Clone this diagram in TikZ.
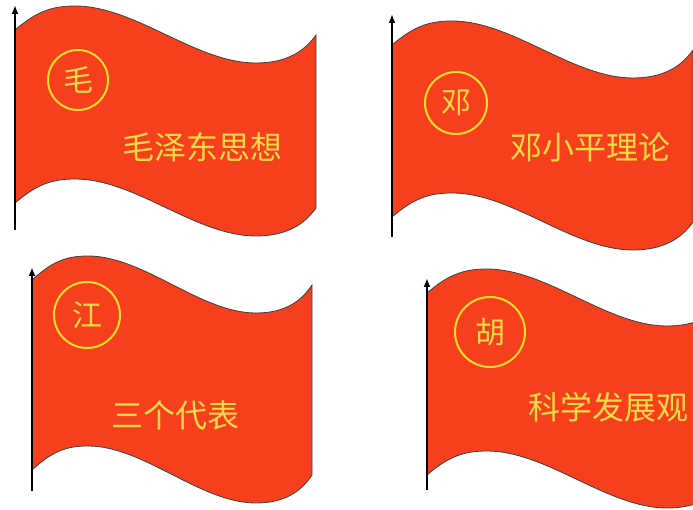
\documentclass[tikz,border=0pt]{standalone}
\usepackage{fontspec}
\newfontfamily\cjk{Noto Sans CJK SC}
\usetikzlibrary{arrows.meta}

\definecolor{flagred}{RGB}{245,63,29}
\definecolor{ringyellow}{RGB}{250,222,40}
\definecolor{mottoyellow}{RGB}{250,218,70}

\begin{document}
\begin{tikzpicture}[
    x=1pt, y=-1pt,
    cloth/.style={fill=flagred, draw=black!75, line width=0.8pt},
    pole/.style={-{Latex[length=9pt,width=7pt]}, line width=1.8pt, black},
    badge/.style={circle, draw=ringyellow, line width=2pt, inner sep=0pt,
                  text=mottoyellow, font=\cjk\fontsize{30}{30}\selectfont},
    motto/.style={text=mottoyellow, font=\cjk\fontsize{32}{32}\selectfont}
]
    \useasboundingbox (0,0) rectangle (693,510);

    % Four flags: pole corner, size, pole overhang, badge and motto
    \foreach \px/\py/\fw/\fh/\up/\dn/\cx/\cy/\rad/\ch/\tx/\ty/\mot [count=\i] in {
        15/30/301/173/25/27/63/50/30/毛/187/117/毛泽东思想,
        392/45/301/172/31/20/64/58/31/邓/198/102/邓小平理论,
        32/280/280/190/13/21/55/35/33/江/143/135/三个代表,
        427/293/300/182/15/15/63/39/35/胡/181/114/科学发展观} {
    \begin{scope}[shift={(\px,\py)}]
        % cloth: wavy top edge, straight fly end, wavy bottom edge
        \draw[cloth] (0,0)
            .. controls ({0.07*\fw},-18) and ({0.12*\fw},-24) .. ({0.2*\fw},-24)
            .. controls ({0.4*\fw},-24) and ({0.6*\fw},33) .. ({0.8*\fw},33)
            .. controls ({0.9*\fw},33) and ({0.96*\fw},22) .. (\fw,5)
            -- (\fw,{5+\fh})
            .. controls ({0.96*\fw},{22+\fh}) and ({0.9*\fw},{33+\fh}) .. ({0.8*\fw},{33+\fh})
            .. controls ({0.6*\fw},{33+\fh}) and ({0.4*\fw},{\fh-24}) .. ({0.2*\fw},{\fh-24})
            .. controls ({0.12*\fw},{\fh-24}) and ({0.07*\fw},{\fh-18}) .. (0,\fh) -- cycle;

        % pole with arrow tip
        \coordinate (foot\i) at (0,{\fh+\dn});
        \coordinate (tip\i) at (0,-\up);
        \draw[pole] (foot\i) -- (tip\i);

        % badge and motto
        \node[badge, minimum size=2*\rad] (badge\i) at (\cx,\cy) {\ch};
        \node[motto] (motto\i) at (\tx,\ty) {\mot};
    \end{scope}
    }
\end{tikzpicture}
\end{document}
